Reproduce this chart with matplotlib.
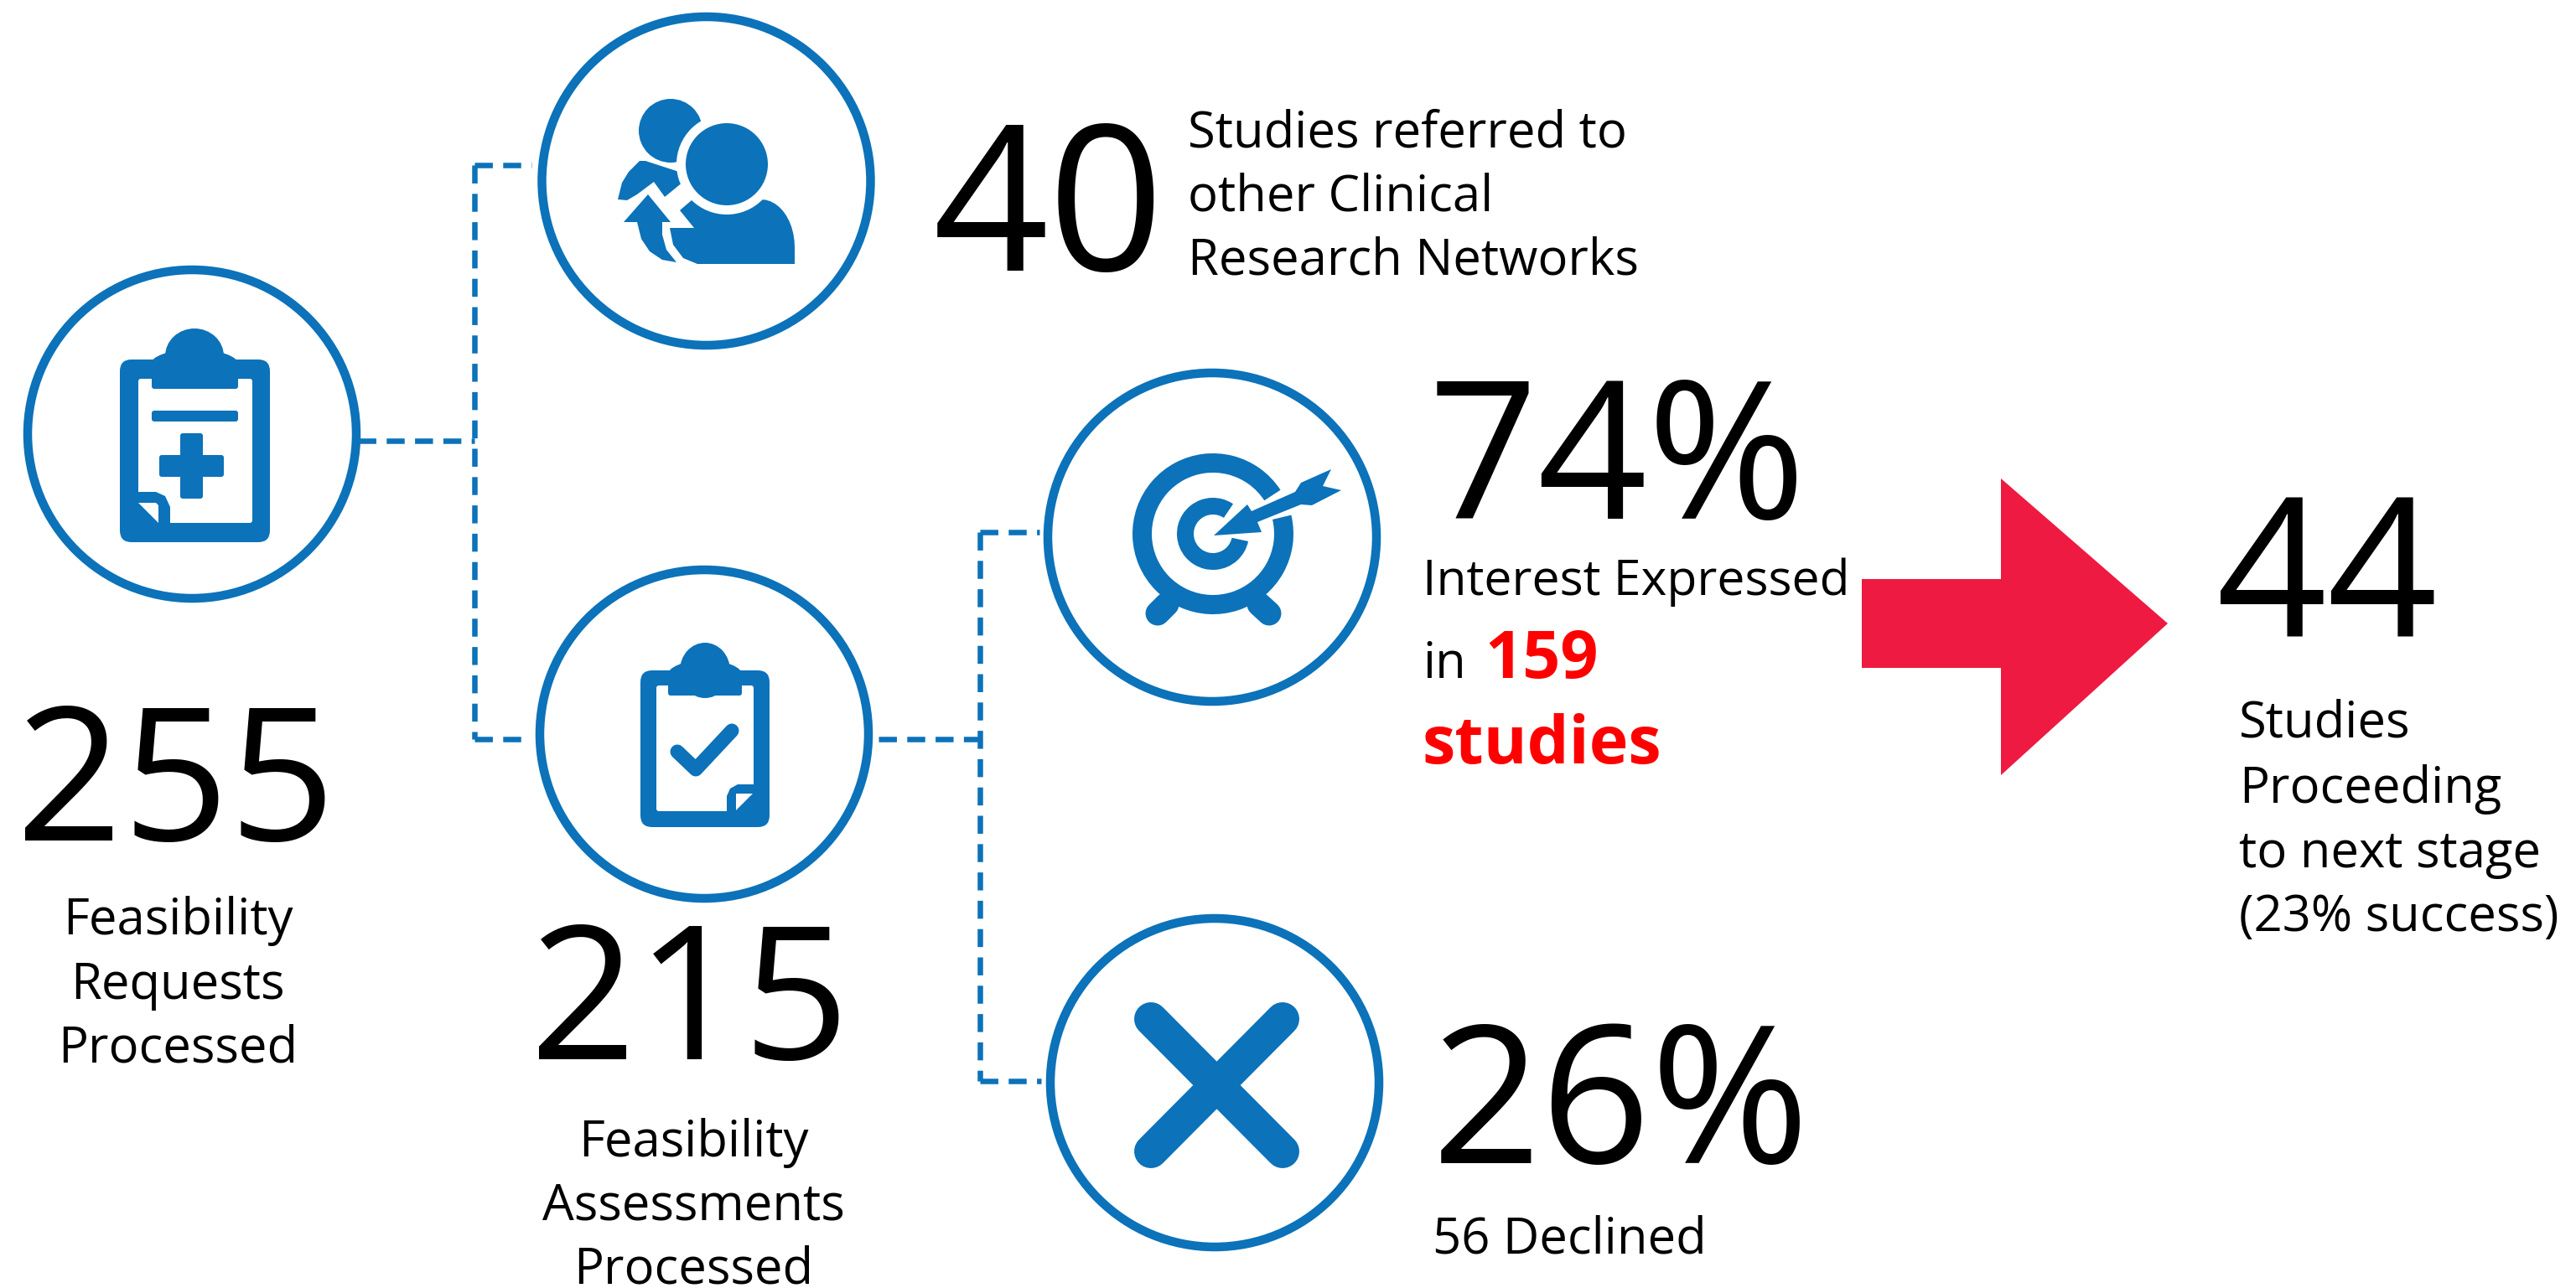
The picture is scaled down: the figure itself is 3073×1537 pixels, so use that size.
import matplotlib
matplotlib.use('Agg')
import numpy as np
import matplotlib.pyplot as plt
from matplotlib.patches import Circle, Polygon, Wedge, FancyBboxPatch, Ellipse

blue = '#0c72b9'
red_arrow = '#ee1a42'
FONT = ['Open Sans', 'DejaVu Sans']

big_numbers = ['255', '215', '40', '74%', '26%', '44']
big_x = [210, 823, 1113, 1704, 1708, 2644]
big_y = [1003, 1264, 323, 619, 1388, 760]
big_ha = ['center', 'center', 'left', 'left', 'left', 'left']
big_size = [160, 160, 174, 165, 165, 166]

label_lines = ['Feasibility', 'Requests', 'Processed',
               'Feasibility', 'Assessments', 'Processed',
               'Studies referred to', 'other Clinical', 'Research Networks',
               'Interest Expressed', 'in', '56 Declined',
               'Studies', 'Proceeding', 'to next stage', '(23% success)']
label_x = [212, 212, 212, 827, 827, 827, 1417, 1417, 1417, 1697, 1697, 1709, 2671, 2671, 2671, 2671]
label_y = [1115, 1192, 1268, 1380, 1456, 1531, 176, 252, 328, 710, 809, 1495, 880, 958, 1035, 1111]
label_ha = ['center'] * 6 + ['left'] * 10
label_size = [43] * 9 + [42.4] + [43] * 6

red_lines = ['159', 'studies']
red_x = [1771, 1697]
red_y = [809, 911]

circle_x = [229, 842.5, 840, 1446, 1449]
circle_y = [518, 216, 876, 641, 1292]
circle_r = 196

def px(v):
    return v * 72 / 100

fig = plt.figure(figsize=(30.73, 15.37), dpi=100)
ax = fig.add_axes([0, 0, 1, 1])
ax.set_xlim(0, 3073)
ax.set_ylim(1537, 0)
ax.axis('off')

# dashed connectors
connectors = [
    ([427, 566], [526, 526]),
    ([566, 566], [197, 882]),
    ([566, 634], [197, 197]),
    ([566, 632], [882, 882]),
    ([1048, 1169], [882, 882]),
    ([1169, 1169], [635, 1290]),
    ([1169, 1240], [635, 635]),
    ([1169, 1242], [1290, 1290]),
]
for xs, ys in connectors:
    ax.plot(xs, ys, color=blue, lw=px(6.5), dashes=(3.3, 1.9), solid_capstyle='butt', dash_capstyle='butt', zorder=1)

for cx, cy in zip(circle_x, circle_y):
    ax.add_patch(Circle((cx, cy), circle_r, fc='white', ec=blue, lw=px(10.5), zorder=2))

def poly(pts, color=blue, z=3):
    ax.add_patch(Polygon(pts, closed=True, fc=color, ec='none', zorder=z))

def rrect(x0, y0, x1, y1, r, color=blue, z=3):
    ax.add_patch(FancyBboxPatch((x0 + r, y0 + r), x1 - x0 - 2 * r, y1 - y0 - 2 * r,
                                boxstyle='round,pad=%f,rounding_size=%f' % (r, r),
                                fc=color, ec='none', zorder=z))

def clipboard(x0, y0, x1, y1, ix0, iy0, ix1, iy1, cx0, cx1, cy1, dome_x, dome_top):
    rrect(x0, y0, x1, y1, 14)
    rrect(ix0, iy0, ix1, iy1, 3, 'white', 4)
    rrect(cx0, iy0 - 10, cx1, cy1, 3, blue, 5)
    w = (cx1 - cx0)
    # clip shoulders and dome
    ax.add_patch(Ellipse((dome_x, y0 + 6), w * 1.02, 36, fc=blue, ec='none', zorder=5))
    ax.add_patch(Ellipse((dome_x, dome_top + 33), w * 0.68, 66, fc=blue, ec='none', zorder=5))

# clipboard with plus
clipboard(143, 429, 322, 647, 165, 452, 301, 624, 181, 284, 464, 232, 392)
rrect(181, 490, 284, 503, 3, blue, 5)
rrect(215, 517, 242, 595, 3, blue, 5)
rrect(190, 543, 267, 569, 3, blue, 5)
poly([(160, 587), (186, 587), (197, 592), (203, 605), (203, 630), (160, 630)], blue, 5)
poly([(165, 600), (186, 600), (189, 603), (189, 624)], 'white', 6)

# clipboard with tick
clipboard(764, 800, 918, 987, 783, 818, 899, 968, 797, 885, 830, 841, 767)
ax.plot([808, 830, 873], [897, 918, 872], color=blue, lw=px(17), solid_capstyle='round',
        solid_joinstyle='round', zorder=5)
poly([(867, 975), (867, 950), (871, 941), (880, 936), (905, 936), (905, 975)], blue, 5)
poly([(878, 947), (898, 947), (878, 967)], 'white', 6)

# people with arrow
ax.add_patch(Circle((800, 156), 38, fc=blue, ec='none', zorder=3))
poly([(737, 238), (742, 218), (750, 205), (763, 192), (770, 192), (810, 205), (815, 217),
      (793, 235), (780, 217), (760, 232), (748, 239)], blue, 3)
poly([(773, 232), (800, 265), (790, 265), (790, 280), (795, 298), (807, 313),
      (790, 310), (775, 300), (765, 285), (760, 265), (744, 265)], blue, 3)
theta = np.radians(np.linspace(0, 90, 12))
poly([(948, 315), (948, 295)] + [(948 - 40 * (1 - np.cos(a)), 295 - 57 * np.sin(a)) for a in theta[1:]]
     + [(825, 239), (811, 251), (828, 272), (799, 272), (803, 292), (815, 308), (832, 315)], blue, 3)
ax.add_patch(Circle((867, 196), 60, fc='white', ec='none', zorder=4))
ax.add_patch(Circle((867, 196), 49, fc=blue, ec='none', zorder=5))

# target
tx, ty = 1447, 637
ax.add_patch(Wedge((tx, ty), 96, -13.5, 327, width=23, fc=blue, ec='none', zorder=3))
ax.add_patch(Wedge((tx, ty), 43, 12, 304, width=20, fc=blue, ec='none', zorder=3))
ax.plot([1392, 1381], [721, 732], color=blue, lw=px(29), solid_capstyle='round', zorder=3)
ax.plot([1502, 1514], [721, 732], color=blue, lw=px(29), solid_capstyle='round', zorder=3)
poly([(1448, 639), (1488, 602), (1493, 610), (1545, 587), (1552, 576), (1588, 560), (1578, 580),
      (1600, 585), (1565, 603), (1552, 602), (1500, 623), (1505, 635)], blue, 5)

# cross
ax.plot([1373, 1530], [1216, 1374], color=blue, lw=px(40), solid_capstyle='round', zorder=3)
ax.plot([1530, 1373], [1216, 1374], color=blue, lw=px(40), solid_capstyle='round', zorder=3)

# red arrow
poly([(2221, 691), (2387, 691), (2387, 571), (2586, 744), (2387, 925), (2387, 797), (2221, 797)], red_arrow, 3)

for s, x, y, ha, size in zip(big_numbers, big_x, big_y, big_ha, big_size):
    ax.text(x, y, s, fontsize=size, family=FONT, ha=ha, va='baseline', color='black', zorder=6)
for s, x, y, ha, size in zip(label_lines, label_x, label_y, label_ha, label_size):
    ax.text(x, y, s, fontsize=size, family=FONT, ha=ha, va='baseline', color='black', zorder=6)
for s, x, y in zip(red_lines, red_x, red_y):
    ax.text(x, y, s, fontsize=57, family=FONT, ha='left', va='baseline', color='#fe0000', fontweight='bold', zorder=6)

fig.savefig('out.png', dpi=100, facecolor='white')
